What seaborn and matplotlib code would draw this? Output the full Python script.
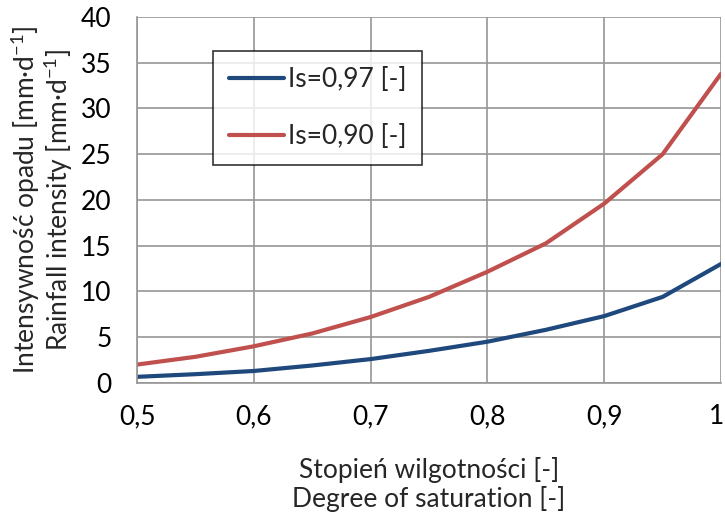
import pandas as pd
import matplotlib
matplotlib.use("Agg")
import matplotlib.pyplot as plt
import matplotlib.transforms as mtransforms
import seaborn as sns
from matplotlib.ticker import FuncFormatter

# values
saturation = [0.50, 0.55, 0.60, 0.65, 0.70, 0.75, 0.80, 0.85, 0.90, 0.95, 1.00]
rain_097 = [0.66, 0.95, 1.3, 1.9, 2.6, 3.5, 4.5, 5.8, 7.3, 9.4, 13.0]
rain_090 = [2.0, 2.85, 4.0, 5.4, 7.2, 9.4, 12.15, 15.25, 19.6, 25.0, 33.8]
series_labels = ["Is=0,97 [-]", "Is=0,90 [-]"]
series_colors = ["#1F497D", "#C0504D"]

df = pd.DataFrame({
    "x": saturation * 2,
    "y": rain_097 + rain_090,
    "series": [series_labels[0]] * len(saturation) + [series_labels[1]] * len(saturation),
})

sns.set_style("white")
plt.rcParams['font.family'] = ['Lato', 'DejaVu Sans']
plt.rcParams['mathtext.fontset'] = 'custom'
plt.rcParams['mathtext.rm'] = 'Lato'
plt.rcParams['mathtext.default'] = 'regular'

fs = 19
fig = plt.figure(figsize=(7.25, 5.16), dpi=100)
ax = fig.add_axes([0.189, 0.258, 0.8055, 0.709])

sns.lineplot(data=df, x="x", y="y", hue="series", palette=series_colors,
             linewidth=3.0, ax=ax, legend=True)

ax.set_xlim(0.5, 1.0)
ax.set_ylim(0, 40)
ax.set_xticks([0.5, 0.6, 0.7, 0.8, 0.9, 1.0])
ax.set_yticks(range(0, 45, 5))
ax.xaxis.set_major_formatter(FuncFormatter(lambda v, p: ("%g" % round(v, 2)).replace(".", ",")))

grid_col = "#969696"
ax.grid(True, color=grid_col, linewidth=1.2)
ax.set_axisbelow(True)
for side in ["top", "right"]:
    ax.spines[side].set_visible(False)
for side in ["left", "bottom"]:
    ax.spines[side].set_color(grid_col)
    ax.spines[side].set_linewidth(1.2)
ax.tick_params(axis="both", direction="out", length=6.5, width=1.2, color=grid_col,
               labelsize=fs, labelcolor="black")
ax.tick_params(axis="y", pad=12)
ax.tick_params(axis="x", pad=9)

# keep the last x label inside the figure
last = ax.get_xticklabels()[-1]
last.set_transform(last.get_transform() + mtransforms.ScaledTranslation(-4 / 100, 0, fig.dpi_scale_trans))

ax.set_xlabel("Stopień wilgotności [-]\nDegree of saturation [-]", fontsize=fs,
              linespacing=1.12, labelpad=20)
ax.set_ylabel("Intensywność opadu [mm·d$^{-1}$]\nRainfall intensity [mm·d$^{-1}$]",
              fontsize=fs, linespacing=1.0, labelpad=4)

leg = ax.legend(loc="upper left", bbox_to_anchor=(0.130, 0.906), borderaxespad=0,
                fontsize=fs, frameon=True, fancybox=False, handlelength=2.1,
                handletextpad=0.15, labelspacing=1.2, borderpad=0.6)
leg.get_frame().set_edgecolor("black")
leg.get_frame().set_linewidth(1.2)
for line in leg.get_lines():
    line.set_linewidth(3.0)

fig.savefig("out.png", dpi=100)
